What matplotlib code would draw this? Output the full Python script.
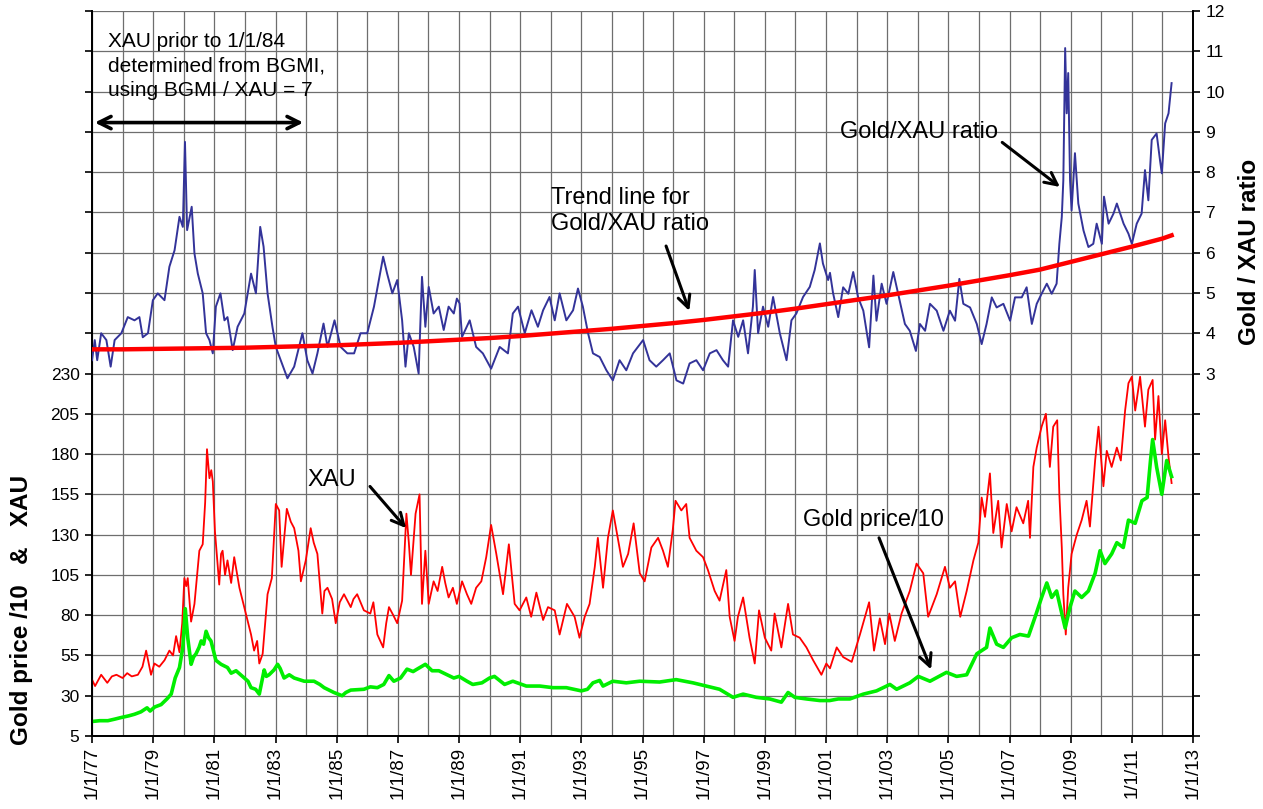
import numpy as np
import matplotlib
matplotlib.use('Agg')
import matplotlib.pyplot as plt

plt.rcParams['font.family'] = ['Liberation Sans', 'DejaVu Sans']

# XAU index (red)
xau_years = [1977.00, 1977.10, 1977.30, 1977.50, 1977.65, 1977.80, 1978.00, 1978.15, 1978.30, 1978.50,
             1978.65, 1978.77, 1978.93, 1979.04, 1979.20, 1979.37, 1979.53, 1979.65, 1979.75, 1979.86,
             1979.95, 1980.02, 1980.08, 1980.13, 1980.24, 1980.35, 1980.51, 1980.62, 1980.70, 1980.76,
             1980.84, 1980.90, 1980.95, 1981.02, 1981.16, 1981.22, 1981.27, 1981.35, 1981.43, 1981.55,
             1981.65, 1981.82, 1982.03, 1982.20, 1982.30, 1982.40, 1982.47, 1982.58, 1982.74, 1982.88,
             1983.01, 1983.12, 1983.20, 1983.37, 1983.50, 1983.61, 1983.75, 1983.83, 1983.99, 1984.15,
             1984.25, 1984.37, 1984.53, 1984.60, 1984.70, 1984.85, 1984.97, 1985.10, 1985.24, 1985.46,
             1985.55, 1985.67, 1985.89, 1986.10, 1986.20, 1986.33, 1986.52, 1986.62, 1986.71, 1986.85,
             1986.98, 1987.14, 1987.28, 1987.36, 1987.43, 1987.58, 1987.71, 1987.79, 1987.90, 1988.01,
             1988.17, 1988.30, 1988.45, 1988.55, 1988.66, 1988.80, 1988.93, 1989.10, 1989.26, 1989.40,
             1989.56, 1989.73, 1989.89, 1990.05, 1990.22, 1990.44, 1990.63, 1990.82, 1990.98, 1991.20,
             1991.36, 1991.53, 1991.75, 1991.91, 1992.13, 1992.29, 1992.53, 1992.78, 1992.94, 1993.11,
             1993.27, 1993.44, 1993.54, 1993.71, 1993.87, 1994.03, 1994.23, 1994.36, 1994.53, 1994.71,
             1994.91, 1995.07, 1995.29, 1995.51, 1995.67, 1995.83, 1995.99, 1996.08, 1996.27, 1996.43,
             1996.54, 1996.76, 1996.98, 1997.14, 1997.36, 1997.52, 1997.74, 1997.85, 1998.01, 1998.12,
             1998.29, 1998.50, 1998.67, 1998.81, 1999.00, 1999.21, 1999.32, 1999.54, 1999.76, 1999.92,
             2000.14, 2000.36, 2000.58, 2000.85, 2001.01, 2001.13, 2001.35, 2001.56, 2001.84, 2002.11,
             2002.41, 2002.57, 2002.76, 2002.93, 2003.07, 2003.25, 2003.47, 2003.74, 2003.96, 2004.18,
             2004.34, 2004.62, 2004.89, 2005.05, 2005.22, 2005.39, 2005.60, 2005.82, 2005.98, 2006.09,
             2006.20, 2006.36, 2006.47, 2006.63, 2006.74, 2006.91, 2007.07, 2007.23, 2007.45, 2007.61,
             2007.67, 2007.78, 2007.89, 2008.05, 2008.19, 2008.32, 2008.43, 2008.56, 2008.63, 2008.71,
             2008.76, 2008.84, 2008.92, 2009.03, 2009.20, 2009.36, 2009.52, 2009.63, 2009.80, 2009.91,
             2010.07, 2010.18, 2010.34, 2010.51, 2010.64, 2010.78, 2010.89, 2011.00, 2011.11, 2011.27,
             2011.43, 2011.54, 2011.68, 2011.76, 2011.87, 2011.98, 2012.09, 2012.20, 2012.30]
xau_vals = [40, 36, 43, 38, 42, 43, 41, 44, 42, 43,
            48, 58, 43, 50, 48, 52, 58, 55, 67, 57,
            75, 103, 98, 103, 76, 87, 120, 124, 150, 183,
            165, 170, 163, 132, 99, 118, 120, 105, 114, 100,
            116, 97, 81, 68, 58, 64, 50, 56, 93, 103,
            149, 145, 110, 146, 138, 134, 120, 101, 114, 134,
            125, 118, 81, 95, 97, 90, 75, 88, 93, 85,
            90, 93, 83, 81, 88, 68, 60, 75, 85, 80,
            75, 89, 143, 125, 105, 143, 155, 87, 120, 87,
            101, 95, 110, 100, 91, 97, 87, 101, 93, 87,
            97, 101, 116, 136, 118, 93, 124, 87, 83, 91,
            79, 94, 77, 85, 83, 68, 87, 79, 66, 79,
            87, 110, 128, 97, 128, 145, 124, 110, 118, 137,
            106, 101, 122, 128, 120, 110, 133, 151, 145, 149,
            128, 120, 116, 108, 95, 89, 108, 79, 64, 79,
            91, 66, 50, 83, 66, 58, 81, 60, 87, 68,
            66, 60, 52, 43, 50, 47, 60, 54, 51, 68,
            88, 58, 78, 62, 81, 64, 81, 95, 112, 106,
            79, 93, 110, 97, 101, 79, 95, 114, 125, 153,
            141, 168, 131, 151, 122, 149, 132, 147, 137, 151,
            128, 172, 184, 197, 205, 172, 197, 201, 155, 122,
            93, 68, 97, 118, 130, 139, 151, 135, 176, 197,
            160, 182, 172, 184, 176, 207, 224, 228, 207, 228,
            197, 220, 226, 189, 216, 180, 201, 178, 162]

# Gold price / 10 (green)
gold_years = [1977.00, 1977.25, 1977.52, 1977.75, 1977.96, 1978.20, 1978.39, 1978.60, 1978.80, 1978.90,
              1979.05, 1979.26, 1979.45, 1979.59, 1979.72, 1979.86, 1979.97, 1980.05, 1980.13, 1980.24,
              1980.32, 1980.40, 1980.50, 1980.57, 1980.65, 1980.73, 1980.81, 1980.89, 1981.05, 1981.22,
              1981.43, 1981.55, 1981.71, 1981.98, 1982.10, 1982.20, 1982.35, 1982.47, 1982.63, 1982.70,
              1982.79, 1982.95, 1983.07, 1983.15, 1983.28, 1983.45, 1983.61, 1983.94, 1984.26, 1984.45,
              1984.59, 1984.91, 1985.18, 1985.30, 1985.46, 1985.89, 1986.10, 1986.33, 1986.54, 1986.71,
              1986.87, 1987.09, 1987.30, 1987.50, 1987.63, 1987.90, 1988.12, 1988.34, 1988.61, 1988.83,
              1989.00, 1989.26, 1989.45, 1989.75, 1990.00, 1990.16, 1990.49, 1990.76, 1991.20, 1991.64,
              1992.07, 1992.51, 1993.00, 1993.20, 1993.38, 1993.60, 1993.71, 1994.03, 1994.47, 1994.91,
              1995.56, 1996.10, 1996.65, 1997.09, 1997.52, 1997.96, 1998.29, 1998.72, 1999.16, 1999.54,
              1999.76, 1999.98, 2000.36, 2000.80, 2001.12, 2001.40, 2001.78, 2002.22, 2002.65, 2003.09,
              2003.31, 2003.74, 2004.02, 2004.40, 2004.94, 2005.27, 2005.60, 2005.93, 2006.25, 2006.36,
              2006.58, 2006.80, 2007.07, 2007.34, 2007.62, 2007.84, 2008.05, 2008.22, 2008.38, 2008.54,
              2008.71, 2008.82, 2008.98, 2009.14, 2009.36, 2009.58, 2009.80, 2009.96, 2010.12, 2010.34,
              2010.51, 2010.72, 2010.89, 2011.11, 2011.33, 2011.50, 2011.61, 2011.68, 2011.81, 2011.98,
              2012.14, 2012.30]
gold_vals = [14, 14.5, 14.5, 15.5, 16.5, 17.5, 18.5, 20, 22.5, 20.5,
             23, 24.5, 28, 31, 41, 47.5, 60, 84, 66, 49.5,
             54, 56, 60, 64, 62, 70, 66, 64, 52, 49.5,
             47.5, 44, 45.5, 41, 39, 35, 34, 31, 46, 42,
             43, 46, 49.5, 47, 41, 43, 41, 39, 39, 37,
             35, 32, 30, 32, 33.5, 34, 35.5, 35, 37, 42.5,
             39, 41, 46.5, 45, 46.5, 49.5, 45.5, 45.5, 43, 41,
             42, 39, 37, 38, 41, 42, 37, 39, 36, 36,
             35, 35, 33, 34, 38, 39.5, 36, 39, 38, 39,
             38.5, 40, 38, 36, 34, 29, 31, 29, 28, 26,
             32, 29, 28, 27, 27, 28, 28, 31, 33, 37,
             34, 38, 42, 39, 44.5, 42, 43, 56, 60, 72,
             62, 60, 66, 68, 67, 79, 91, 100, 91, 95,
             81, 72, 85, 95, 91, 95, 106, 120, 112, 118,
             125, 122, 139, 137, 151, 153, 176, 189, 172, 155,
             176, 166]

# Gold / XAU ratio (blue, right axis)
ratio_years = [1977.00, 1977.09, 1977.17, 1977.30, 1977.47, 1977.61, 1977.74, 1977.96, 1978.17, 1978.39,
               1978.55, 1978.66, 1978.83, 1978.99, 1979.15, 1979.37, 1979.53, 1979.70, 1979.86, 1979.97,
               1980.04, 1980.11, 1980.26, 1980.35, 1980.46, 1980.62, 1980.73, 1980.84, 1980.95, 1981.05,
               1981.20, 1981.33, 1981.43, 1981.60, 1981.76, 1981.98, 1982.20, 1982.36, 1982.50, 1982.61,
               1982.74, 1982.90, 1983.01, 1983.17, 1983.39, 1983.61, 1983.88, 1984.04, 1984.21, 1984.37,
               1984.57, 1984.70, 1984.93, 1985.13, 1985.35, 1985.57, 1985.78, 1986.00, 1986.22, 1986.38,
               1986.52, 1986.65, 1986.82, 1986.98, 1987.14, 1987.25, 1987.36, 1987.52, 1987.68, 1987.79,
               1987.90, 1988.01, 1988.17, 1988.34, 1988.50, 1988.66, 1988.83, 1988.93, 1989.02, 1989.10,
               1989.35, 1989.56, 1989.78, 1990.05, 1990.33, 1990.60, 1990.76, 1990.93, 1991.15, 1991.37,
               1991.58, 1991.75, 1991.96, 1992.13, 1992.29, 1992.51, 1992.73, 1992.89, 1993.05, 1993.22,
               1993.38, 1993.60, 1993.82, 1994.03, 1994.25, 1994.47, 1994.69, 1995.02, 1995.23, 1995.45,
               1995.67, 1995.89, 1996.11, 1996.33, 1996.54, 1996.76, 1996.98, 1997.20, 1997.42, 1997.63,
               1997.80, 1997.96, 1998.13, 1998.29, 1998.45, 1998.61, 1998.67, 1998.78, 1998.94, 1999.11,
               1999.27, 1999.49, 1999.71, 1999.87, 2000.03, 2000.25, 2000.47, 2000.63, 2000.80, 2000.90,
               2001.07, 2001.13, 2001.23, 2001.40, 2001.56, 2001.73, 2001.89, 2002.05, 2002.22, 2002.41,
               2002.55, 2002.65, 2002.82, 2002.98, 2003.20, 2003.36, 2003.58, 2003.74, 2003.94, 2004.07,
               2004.24, 2004.40, 2004.62, 2004.84, 2005.05, 2005.22, 2005.36, 2005.49, 2005.71, 2005.93,
               2006.09, 2006.25, 2006.42, 2006.58, 2006.80, 2007.02, 2007.18, 2007.40, 2007.56, 2007.73,
               2007.89, 2008.05, 2008.22, 2008.38, 2008.54, 2008.63, 2008.71, 2008.76, 2008.82, 2008.87,
               2008.92, 2008.98, 2009.03, 2009.14, 2009.25, 2009.42, 2009.58, 2009.74, 2009.85, 2010.02,
               2010.09, 2010.24, 2010.40, 2010.51, 2010.73, 2010.89, 2011.00, 2011.16, 2011.32, 2011.43,
               2011.54, 2011.65, 2011.81, 2011.92, 2011.98, 2012.09, 2012.20, 2012.30]
ratio_vals = [3.33, 3.83, 3.33, 4.00, 3.83, 3.17, 3.83, 4.00, 4.40, 4.32,
              4.40, 3.90, 4.00, 4.82, 4.99, 4.82, 5.65, 6.06, 6.89, 6.64,
              8.75, 6.56, 7.14, 5.98, 5.48, 4.99, 4.00, 3.83, 3.50, 4.66,
              4.99, 4.32, 4.40, 3.58, 4.16, 4.49, 5.48, 4.99, 6.64, 6.15,
              4.99, 4.16, 3.66, 3.33, 2.88, 3.17, 4.00, 3.33, 3.00, 3.50,
              4.24, 3.66, 4.32, 3.66, 3.50, 3.50, 4.00, 4.00, 4.66, 5.32,
              5.90, 5.48, 4.99, 5.32, 4.32, 3.17, 4.00, 3.66, 3.00, 5.40,
              4.16, 5.15, 4.49, 4.66, 4.08, 4.66, 4.49, 4.86, 4.74, 3.91,
              4.32, 3.66, 3.50, 3.12, 3.66, 3.50, 4.49, 4.66, 4.00, 4.57,
              4.16, 4.57, 4.90, 4.32, 4.99, 4.32, 4.57, 5.11, 4.66, 4.00,
              3.50, 3.41, 3.08, 2.83, 3.33, 3.08, 3.50, 3.83, 3.33, 3.17,
              3.33, 3.50, 2.83, 2.75, 3.25, 3.33, 3.08, 3.50, 3.58, 3.33,
              3.17, 4.32, 3.91, 4.32, 3.50, 4.66, 5.57, 4.00, 4.66, 4.16,
              4.90, 4.00, 3.33, 4.32, 4.49, 4.90, 5.15, 5.57, 6.23, 5.73,
              5.32, 5.50, 5.00, 4.40, 5.14, 4.98, 5.52, 4.89, 4.56, 3.65,
              5.43, 4.31, 5.23, 4.73, 5.52, 4.98, 4.23, 4.06, 3.56, 4.23,
              4.06, 4.73, 4.56, 4.06, 4.56, 4.31, 5.35, 4.73, 4.64, 4.23,
              3.73, 4.23, 4.89, 4.64, 4.73, 4.31, 4.89, 4.89, 5.14, 4.23,
              4.73, 4.98, 5.23, 4.98, 5.23, 6.22, 6.89, 7.80, 11.08, 9.46,
              10.46, 7.80, 7.05, 8.47, 7.22, 6.55, 6.14, 6.22, 6.72, 6.22,
              7.39, 6.72, 6.97, 7.22, 6.72, 6.47, 6.22, 6.72, 6.97, 8.05,
              7.30, 8.80, 8.96, 8.30, 7.97, 9.21, 9.46, 10.21]

# trend line for the ratio
trend_years = list(range(1977, 2013)) + [2012.3]
trend_vals = [3.60, 3.60, 3.61, 3.62, 3.63, 3.64, 3.66, 3.68, 3.70, 3.73,
              3.76, 3.80, 3.84, 3.88, 3.93, 3.99, 4.05, 4.11, 4.18, 4.25,
              4.33, 4.42, 4.51, 4.61, 4.72, 4.83, 4.94, 5.06, 5.18, 5.31,
              5.44, 5.58, 5.77, 5.96, 6.15, 6.35, 6.43]

tick_years = list(range(1977, 2014, 2))
tick_labels = ['1/1/%02d' % (y % 100) for y in tick_years]

W, H = 1263, 809
fig = plt.figure(figsize=(W / 100, H / 100), dpi=100)
L, R, T, B = 92, 1193, 11, 736
ax = fig.add_axes([L / W, 1 - B / H, (R - L) / W, (B - T) / H])
ax2 = ax.twinx()

ax.set_xlim(1977, 2013)
ax.set_ylim(5, 455)
ax2.set_ylim(-6, 12)

left_ticks = np.arange(5, 456, 25)
ax.set_yticks(left_ticks)
ax.set_yticklabels([str(t) if t <= 230 else '' for t in left_ticks], fontsize=12.5)
right_ticks = np.arange(-6, 13, 1)
ax2.set_yticks(right_ticks)
ax2.set_yticklabels([str(t) if t >= 3 else '' for t in right_ticks], fontsize=12.5)

ax.set_xticks(tick_years)
ax.set_xticklabels(tick_labels, rotation=90, fontsize=13.5)
ax.set_xticks(range(1977, 2014), minor=True)
ax.tick_params(axis='x', which='minor', length=0)
ax.tick_params(axis='x', which='major', length=5, width=1.2, direction='out', pad=3)
ax.tick_params(axis='y', length=5, width=1.2, direction='out', pad=4)
ax2.tick_params(axis='y', length=5, width=1.2, direction='out', pad=4)

ax.grid(True, which='both', axis='x', color='#6e6e6e', lw=0.9)
ax.grid(True, which='major', axis='y', color='#6e6e6e', lw=0.9)
for a in (ax, ax2):
    a.spines['top'].set_visible(False)
    a.spines['left'].set_linewidth(1.3)
    a.spines['right'].set_linewidth(1.3)
    a.spines['bottom'].set_linewidth(1.3)
ax.set_axisbelow(True)

ax.plot(xau_years, xau_vals, color='#ff0000', lw=1.3, zorder=3)
ax.plot(gold_years, gold_vals, color='#00ee00', lw=2.6, zorder=3)
ax2.plot(ratio_years, ratio_vals, color='#333399', lw=1.4, zorder=3)
ax2.plot(trend_years, trend_vals, color='#ff0000', lw=3.2, zorder=4)

# annotations
arrow = dict(arrowstyle='->', color='black', lw=2.2, mutation_scale=22)
ax2.text(1977.52, 11.47, 'XAU prior to 1/1/84\ndetermined from BGMI,\nusing BGMI / XAU = 7',
         fontsize=15, va='top', ha='left', linespacing=1.35)
ax2.annotate('', xy=(1984.0, 9.23), xytext=(1977.0, 9.23),
             arrowprops=dict(arrowstyle='<->', color='black', lw=2.6, mutation_scale=22))
ax2.text(1992.0, 7.04, 'Trend line for\nGold/XAU ratio', fontsize=17, va='center', ha='left',
         linespacing=1.25)
ax2.annotate('', xy=(1996.56, 4.49), xytext=(1995.74, 6.23), arrowprops=arrow)
ax2.text(2004.04, 9.0, 'Gold/XAU ratio', fontsize=17, va='center', ha='center')
ax2.annotate('', xy=(2008.72, 7.59), xytext=(2006.69, 8.78), arrowprops=arrow)
ax.text(1984.85, 163.7, 'XAU', fontsize=17, va='center', ha='center')
ax.annotate('', xy=(1987.33, 132.7), xytext=(1986.03, 161.2), arrowprops=arrow)
ax.text(2002.54, 138.9, 'Gold price/10', fontsize=17, va='center', ha='center')
ax.annotate('', xy=(2004.47, 44.7), xytext=(2002.70, 129.6), arrowprops=arrow)

fig.text(22 / W, 1 - 610 / H, 'Gold price /10   &   XAU', rotation=90, fontsize=17.5,
         fontweight='bold', ha='center', va='center')
fig.text(1250 / W, 1 - 252 / H, 'Gold / XAU ratio', rotation=90, fontsize=17.5,
         fontweight='bold', ha='center', va='center')

fig.savefig('out.png', dpi=100)
